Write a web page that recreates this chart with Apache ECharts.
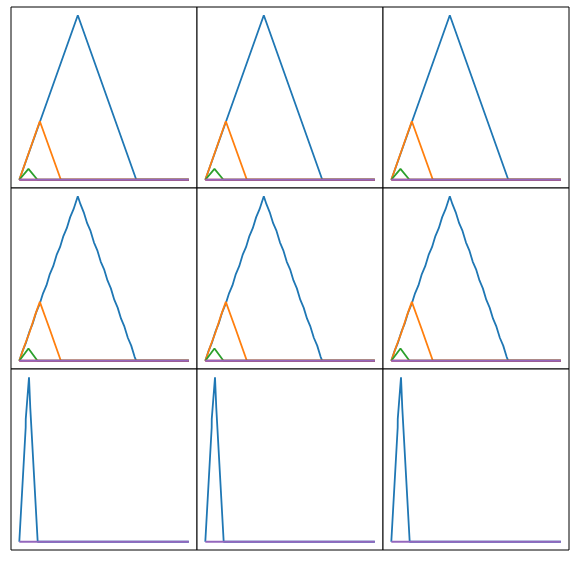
<!DOCTYPE html>
<html>
<head>
<meta charset="utf-8">
<script src="https://cdn.jsdelivr.net/npm/echarts@6/dist/echarts.min.js"></script>
<style>
    html, body { margin: 0; padding: 0; background: #fff; }
    #chart { width: 575px; height: 561px; }
</style>
</head>
<body>
<div id="chart"></div>
<script>
    // x in 0..100, y normalised to the tallest peak of each panel
    const blueTop = [[0, 0], [34.5, 1], [69, 0], [100, 0]];
    const orangeTop = [[0, 0], [12.1, 0.356], [24.5, 0], [100, 0]];
    const greenTop = [[0, 0], [5.4, 0.066], [10.7, 0], [100, 0]];
    const redTop = [[0, 0], [100, 0]];
    const purpleTop = [[0, 0], [100, 0]];

    const blueMid = [[0, 0], [2, 0.062], [4, 0.112], [6, 0.178], [8, 0.229], [10, 0.296], [12, 0.345],
        [14, 0.41], [16, 0.458], [18, 0.527], [20, 0.575], [22, 0.643], [24, 0.69], [26, 0.758],
        [28, 0.806], [30, 0.873], [32, 0.921], [34.5, 1], [36, 0.953], [38, 0.902], [40, 0.836],
        [42, 0.789], [44, 0.72], [46, 0.671], [48, 0.603], [50, 0.556], [52, 0.488], [54, 0.44],
        [56, 0.371], [58, 0.323], [60, 0.256], [62, 0.207], [64, 0.14], [66, 0.092], [68, 0.024],
        [69, 0], [100, 0]];
    const orangeMid = [[0, 0], [3, 0.09], [6, 0.172], [9, 0.268], [12.1, 0.358], [15, 0.275],
        [18, 0.19], [21, 0.102], [24.5, 0], [100, 0]];
    const greenMid = [[0, 0], [5.4, 0.075], [10.7, 0], [100, 0]];
    const redMid = [[0, 0], [100, 0]];
    const purpleMid = [[0, 0], [100, 0]];

    // bottom row: only the narrow blue spike and the purple baseline show
    const blueLow = [[0, 0], [3.77, 0.696], [3.8, 0.745], [5.72, 1], [6.48, 0.812], [10.84, 0], [100, 0]];
    const purpleLow = [[0, 0], [100, 0]];

    const colors = ['#1f77b4', '#ff7f0e', '#2ca02c', '#d62728', '#9467bd'];
    const rows = [
        [[blueTop, 0], [orangeTop, 1], [greenTop, 2], [redTop, 3], [purpleTop, 4]],
        [[blueMid, 0], [orangeMid, 1], [greenMid, 2], [redMid, 3], [purpleMid, 4]],
        [[blueLow, 0], [purpleLow, 4]]
    ];

    const colLeft = [11, 197, 383];
    const rowTop = [7, 188, 369];

    const grid = [], xAxis = [], yAxis = [], series = [];
    let idx = 0;
    for (let r = 0; r < 3; r++) {
        for (let c = 0; c < 3; c++) {
            grid.push({
                left: colLeft[c], top: rowTop[r], width: 186, height: 181,
                show: true, borderColor: '#000', borderWidth: 1, backgroundColor: '#fff'
            });
            xAxis.push({
                type: 'value', gridIndex: idx, min: -4.9, max: 104.8,
                show: false, splitLine: { show: false }
            });
            yAxis.push({
                type: 'value', gridIndex: idx, min: -0.05, max: 1.05,
                show: false, splitLine: { show: false }
            });
            rows[r].forEach(([d, k]) => {
                series.push({
                    type: 'line', xAxisIndex: idx, yAxisIndex: idx,
                    data: d, showSymbol: false, animation: false,
                    lineStyle: { color: colors[k], width: 1.8 },
                    z: 2 + k
                });
            });
            idx++;
        }
    }

    const chart = echarts.init(document.getElementById('chart'));
    chart.setOption({ animation: false, grid, xAxis, yAxis, series });
</script>
</body>
</html>
